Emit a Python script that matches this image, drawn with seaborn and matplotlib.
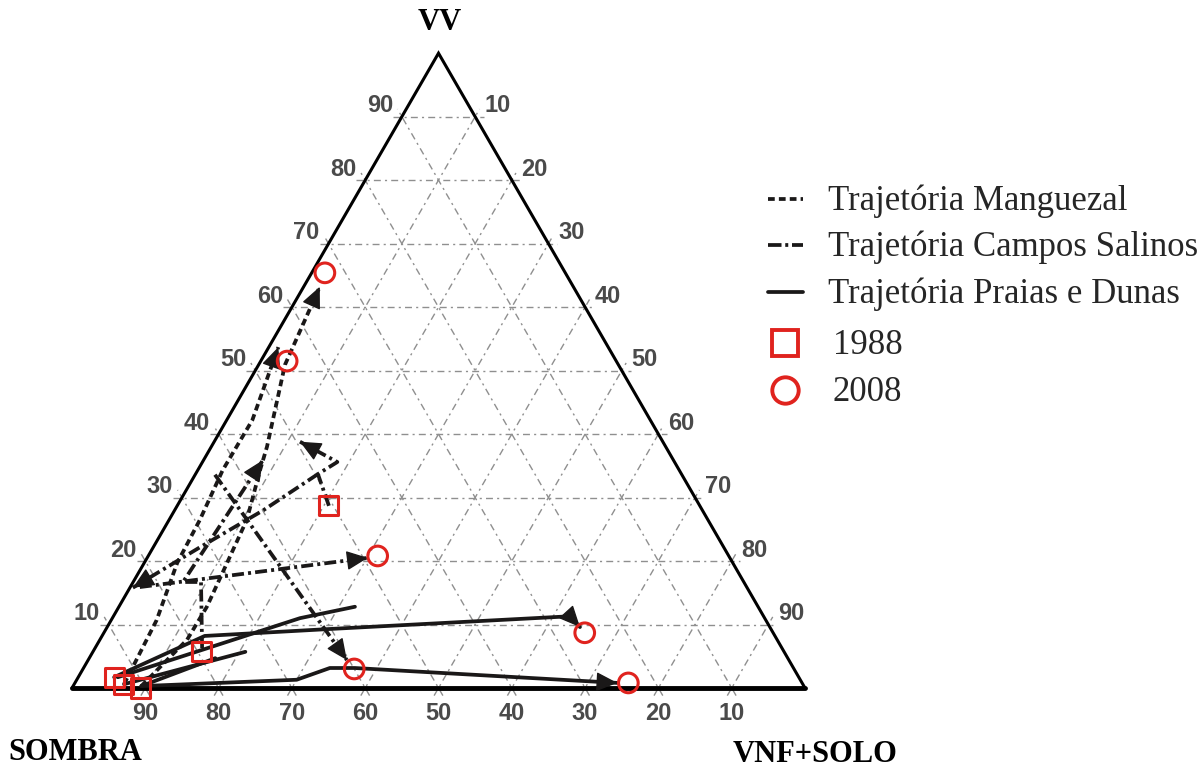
import numpy as np
import pandas as pd
import matplotlib
matplotlib.use("Agg")
import matplotlib.pyplot as plt
import seaborn as sns

sns.set_style("white")

RED = "#e0231e"
INK = "#1a1818"
GRID = "#8f8f8f"
LABEL = "#4a4a4a"

# composicao em % : (VV, VNF+SOLO); SOMBRA = 100 - VV - VNF
vv_1988 = [1.7, 0.5, 0.0, 5.8, 28.7]
vnf_1988 = [4.9, 6.8, 9.4, 14.8, 20.7]
vv_2008 = [65.4, 51.5, 20.8, 8.7, 3.0, 0.8]
vnf_2008 = [1.8, 3.6, 31.3, 65.6, 37.0, 75.5]

# trajetorias (VV, VNF)
manguezal = {
    "M1": ([0.6, 10.7, 19.7, 26.5, 34.3, 42.2, 53.7],
           [6.8, 6.2, 4.5, 4.2, 3.4, 3.5, 1.3]),
    "M2": ([0.3, 7.6, 12.8, 19.7, 26.5, 34.3, 38.0, 50.9, 63.2],
           [9.3, 11.9, 12.0, 11.3, 10.6, 8.5, 7.6, 3.6, 2.2]),
}
campos = {
    "C1": ([28.7, 33.7, 35.6, 38.8], [20.7, 16.7, 18.4, 11.7]),
    "C2": ([33.7, 28.0, 22.2, 15.8], [16.7, 12.1, 6.4, 0.4]),
    "C3": ([15.9, 20.5], [1.3, 30.1]),
    "C4": ([6.3, 16.7, 16.7, 35.9], [14.6, 9.25, 6.8, 8.1]),
    "C5": ([33.6, 4.4], [2.7, 35.3]),
}
praias = {
    "P1": ([0.3, 1.3, 3.15, 3.15, 0.8], [9.3, 30.0, 33.6, 37.0, 74.0]),
    "P2": ([1.7, 8.2, 9.3, 11.3, 9.6], [4.9, 14.0, 30.6, 62.3, 64.5]),
    "P3": ([1.7, 11.0, 12.8], [5.4, 25.6, 32.2]),
    "P4": ([0.6, 5.7], [6.8, 20.8]),
    "P5": ([0.3, 4.7], [9.3, 17.2]),
}
com_seta = ["M1", "M2", "C1", "C2", "C3", "C4", "C5", "P1", "P2"]

legenda = ["Trajetória Manguezal", "Trajetória Campos Salinos",
           "Trajetória Praias e Dunas", "1988", "2008"]
ticks = [10, 20, 30, 40, 50, 60, 70, 80, 90]

H = np.sqrt(3) / 2
DASH_M = (1.8, 1.1)
DASH_C = (3.2, 1.1, 0.8, 1.1)


def tern(vv, vnf):
    vv = np.asarray(vv, float) / 100
    vnf = np.asarray(vnf, float) / 100
    return vnf + vv / 2, vv * H


def px(x, y):
    # pixel da figura -> coordenadas do eixo
    return (x - 72) / 733, (688 - y) / 733


linhas = []
for tipo, grupo in [("Manguezal", manguezal), ("Campos", campos), ("Praias", praias)]:
    for nome, (vv, vnf) in grupo.items():
        x, y = tern(vv, vnf)
        for i in range(len(x)):
            linhas.append({"traj": nome, "tipo": tipo, "ordem": i, "x": x[i], "y": y[i]})
df = pd.DataFrame(linhas)

fig = plt.figure(figsize=(12.04, 7.70), dpi=100)
ax = fig.add_axes([0, 0, 1, 1])
ax.set_xlim(-72 / 733, (1204 - 72) / 733)
ax.set_ylim((688 - 770) / 733, 688 / 733)
ax.axis("off")

# grade
ext = 0.012
for k in ticks:
    segs = [((k, 0), (k, 100 - k)),          # VV constante
            ((0, k), (100 - k, k)),          # VNF constante
            ((0, 100 - k), (100 - k, 0))]    # SOMBRA constante
    for (a, b) in segs:
        xa, ya = tern(a[0], a[1])
        xb, yb = tern(b[0], b[1])
        d = np.array([xb - xa, yb - ya])
        d /= np.hypot(*d)
        ax.plot([xa - d[0] * ext, xb + d[0] * ext], [ya - d[1] * ext, yb + d[1] * ext],
                color=GRID, lw=1.0, dashes=(5, 3, 1.5, 3), zorder=1)

# bordas do triangulo
tx, ty = tern([0, 100, 0], [0, 0, 100])
ax.plot([tx[0], tx[1], tx[2]], [ty[0], ty[1], ty[2]], color="black", lw=2.2, zorder=3,
        solid_joinstyle="miter")
ax.plot([tx[0], tx[2]], [ty[0], ty[2]], color="black", lw=3.5, zorder=3)

# rotulos dos eixos
fonte_tick = dict(fontsize=17, fontweight="bold", color=LABEL, family="Liberation Sans",
                  ha="center", va="center")
for k in ticks:
    ax.text((100 - k) / 100, -0.035, str(k), **fonte_tick)
    lx, ly = tern(k, 0)
    ax.text(lx - 0.030, ly + 0.015, str(k), **fonte_tick)
    rx, ry = tern(100 - k, k)
    ax.text(rx + 0.031, ry + 0.015, str(k), **fonte_tick)

fonte_canto = dict(fontsize=22, fontweight="bold", family="Liberation Serif",
                   color="black", va="center")
ax.text(*px(440, 22), "VV", ha="center", **fonte_canto)
ax.text(*px(8, 752), "SOMBRA", ha="left", **fonte_canto)
ax.text(*px(733, 755), "VNF+SOLO", ha="left", **fonte_canto)

# trajetorias
sns.lineplot(data=df, x="x", y="y", units="traj", style="tipo", estimator=None,
             sort=False, color=INK, lw=2.7, legend=False, ax=ax, zorder=4,
             dashes={"Manguezal": DASH_M, "Campos": DASH_C, "Praias": ""})

for grupo in (manguezal, campos, praias):
    for nome, (vv, vnf) in grupo.items():
        if nome not in com_seta:
            continue
        x, y = tern(vv[-2:], vnf[-2:])
        d = np.array([x[1] - x[0], y[1] - y[0]])
        d /= np.hypot(*d)
        ax.annotate("", xy=(x[1], y[1]), xytext=(x[1] - d[0] * 0.02, y[1] - d[1] * 0.02),
                    arrowprops=dict(arrowstyle="-|>,head_length=0.7,head_width=0.32",
                                    mutation_scale=19, fc=INK, ec=INK, lw=1,
                                    shrinkA=0, shrinkB=0), zorder=5)

# anos
x88, y88 = tern(vv_1988, vnf_1988)
x08, y08 = tern(vv_2008, vnf_2008)
sns.scatterplot(x=x88, y=y88, marker="s", s=190, facecolor="none", edgecolor=RED,
                linewidth=2.2, ax=ax, zorder=6, clip_on=False)
sns.scatterplot(x=x08, y=y08, marker="o", s=200, facecolor="none", edgecolor=RED,
                linewidth=2.2, ax=ax, zorder=6, clip_on=False)

# legenda
estilos = [DASH_M, (3.6, 1.0, 0.8, 1.0), None]
linhas_y = [199, 245, 292]
for nome, est, yy in zip(legenda[:3], estilos, linhas_y):
    x0, y0 = px(768, yy)
    x1, _ = px(803, yy)
    if est is None:
        ax.plot([x0, x1], [y0, y0], color=INK, lw=2.7)
    else:
        ax.plot([x0, x1], [y0, y0], color=INK, lw=2.7, dashes=est)
    ax.text(*px(828, yy + 11), nome, fontsize=25, family="Liberation Serif",
            va="baseline", ha="left")
for nome, mk, yy in zip(legenda[3:], ["s", "o"], [343, 390]):
    ax.plot(*px(785, yy), marker=mk, ms=19, mfc="none", mec=RED, mew=2.8)
    ax.text(*px(833, yy + 11), nome, fontsize=25, family="Liberation Serif",
            va="baseline", ha="left")

fig.savefig("out.png", dpi=100)
